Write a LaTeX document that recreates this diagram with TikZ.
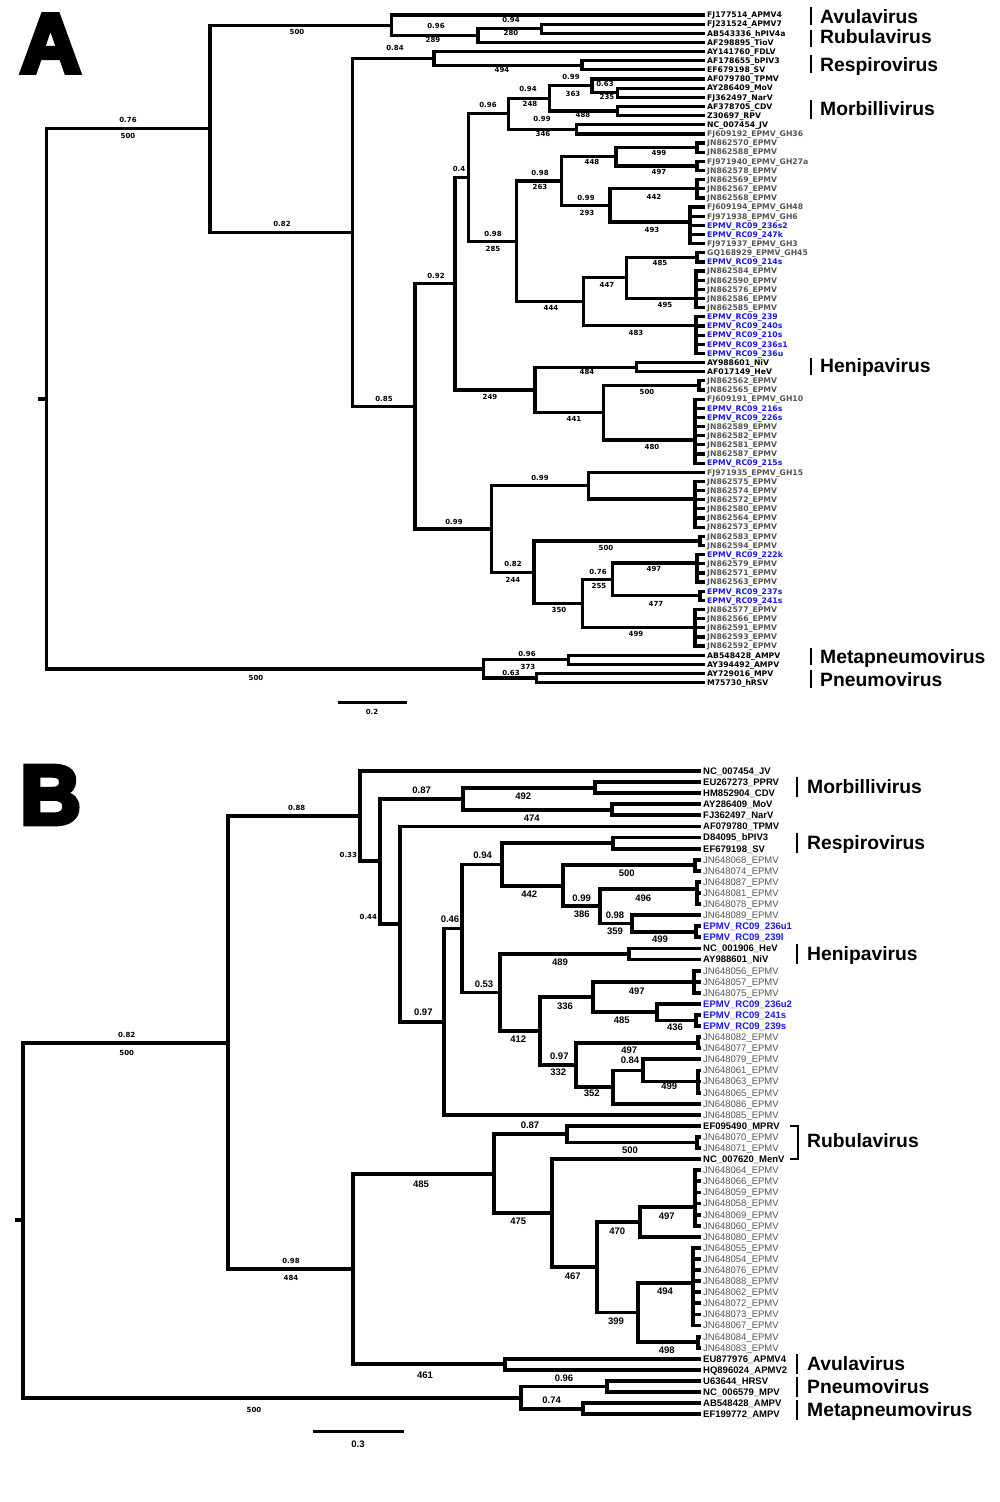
\documentclass[tikz,border=0pt]{standalone}
\usepackage{fontspec}
\newfontfamily\fA{DejaVu Sans}
\newfontfamily\fB{Liberation Sans}
\newfontfamily\fH{Liberation Sans}[BoldFeatures={FakeBold=6}]
\definecolor{gry}{RGB}{85,85,85}
\definecolor{blu}{RGB}{25,25,235}
\tikzset{
 ta/.style={line width=3.2pt, line join=miter, line cap=rect},
 tb/.style={line width=3.8pt, line join=miter, line cap=rect},
 aleaf/.style={anchor=west, inner xsep=4pt, inner ysep=0pt, text height=5.6pt, text depth=0pt, font=\fA\bfseries\fontsize{7.7}{8}\selectfont},
 ak/.style={text=black}, ag/.style={text=gry}, ab/.style={text=blu},
 bleaf/.style={anchor=west, inner xsep=4pt, inner ysep=0pt, text height=6.8pt, text depth=0pt},
 bk/.style={text=black, font=\fB\bfseries\fontsize{9.5}{10}\selectfont},
 bg/.style={text=gry, font=\fB\fontsize{9.5}{10}\selectfont},
 bb/.style={text=blu, font=\fB\bfseries\fontsize{9.5}{10}\selectfont},
 al/.style={inner sep=0pt, font=\fA\bfseries\fontsize{7}{7}\selectfont},
 bl/.style={inner sep=0pt, font=\fB\bfseries\fontsize{9.5}{9.5}\selectfont},
 gn/.style={anchor=west, inner sep=0pt, text height=13.8pt, text depth=0pt, font=\fB\bfseries\fontsize{19.3}{20}\selectfont},
 gbar/.style={line width=1.6pt},
 panel/.style={inner sep=0pt, font=\fH\bfseries\fontsize{84}{84}\selectfont}
}
\begin{document}
\begin{tikzpicture}[x=1pt,y=-1pt]
\fill[white] (0,0) rectangle (1000,1502);
\useasboundingbox (0,0) rectangle (1000,1502);

% ---------------- Panel A ----------------
\node[panel] (pA) at (50.5,43.5) {A};
\foreach \i/\t/\c in {
1/FJ177514\_APMV4/ak, 2/FJ231524\_APMV7/ak, 3/AB543336\_hPIV4a/ak, 4/AF298895\_TioV/ak,
5/AY141760\_FDLV/ak, 6/AF178655\_bPIV3/ak, 7/EF679198\_SV/ak, 8/AF079780\_TPMV/ak,
9/AY286409\_MoV/ak, 10/FJ362497\_NarV/ak, 11/AF378705\_CDV/ak, 12/Z30697\_RPV/ak,
13/NC\_007454\_JV/ak, 14/FJ609192\_EPMV\_GH36/ag, 15/JN862570\_EPMV/ag, 16/JN862588\_EPMV/ag,
17/FJ971940\_EPMV\_GH27a/ag, 18/JN862578\_EPMV/ag, 19/JN862569\_EPMV/ag, 20/JN862567\_EPMV/ag,
21/JN862568\_EPMV/ag, 22/FJ609194\_EPMV\_GH48/ag, 23/FJ971938\_EPMV\_GH6/ag, 24/EPMV\_RC09\_236s2/ab,
25/EPMV\_RC09\_247k/ab, 26/FJ971937\_EPMV\_GH3/ag, 27/GQ168929\_EPMV\_GH45/ag, 28/EPMV\_RC09\_214s/ab,
29/JN862584\_EPMV/ag, 30/JN862590\_EPMV/ag, 31/JN862576\_EPMV/ag, 32/JN862586\_EPMV/ag,
33/JN862585\_EPMV/ag, 34/EPMV\_RC09\_239/ab, 35/EPMV\_RC09\_240s/ab, 36/EPMV\_RC09\_210s/ab,
37/EPMV\_RC09\_236s1/ab, 38/EPMV\_RC09\_236u/ab, 39/AY988601\_NiV/ak, 40/AF017149\_HeV/ak,
41/JN862562\_EPMV/ag, 42/JN862565\_EPMV/ag, 43/FJ609191\_EPMV\_GH10/ag, 44/EPMV\_RC09\_216s/ab,
45/EPMV\_RC09\_226s/ab, 46/JN862589\_EPMV/ag, 47/JN862582\_EPMV/ag, 48/JN862581\_EPMV/ag,
49/JN862587\_EPMV/ag, 50/EPMV\_RC09\_215s/ab, 51/FJ971935\_EPMV\_GH15/ag, 52/JN862575\_EPMV/ag,
53/JN862574\_EPMV/ag, 54/JN862572\_EPMV/ag, 55/JN862580\_EPMV/ag, 56/JN862564\_EPMV/ag,
57/JN862573\_EPMV/ag, 58/JN862583\_EPMV/ag, 59/JN862594\_EPMV/ag, 60/EPMV\_RC09\_222k/ab,
61/JN862579\_EPMV/ag, 62/JN862571\_EPMV/ag, 63/JN862563\_EPMV/ag, 64/EPMV\_RC09\_237s/ab,
65/EPMV\_RC09\_241s/ab, 66/JN862577\_EPMV/ag, 67/JN862566\_EPMV/ag, 68/JN862591\_EPMV/ag,
69/JN862593\_EPMV/ag, 70/JN862592\_EPMV/ag, 71/AB548428\_AMPV/ak, 72/AY394492\_AMPV/ak,
73/AY729016\_MPV/ak, 74/M75730\_hRSV/ak}
 {\node[aleaf,\c] (aF\i) at (703,{15+(\i-1)*9.146}) {\t};}

\coordinate (aTk) at (40,398.9);
\coordinate (aR0) at (46.7,398.9);
\coordinate (aT) at (210,128.85);
\coordinate (aN1) at (391.7,25.29);
\coordinate (aN2) at (478,35.58);
\coordinate (aN3) at (541.7,28.72);
\coordinate (aS) at (352.7,232.4);
\coordinate (aFD) at (434,58.44);
\coordinate (aRS) at (582,65.30);
\coordinate (aU) at (415,406.37);
\coordinate (aV) at (455,283.78);
\coordinate (aW) at (468.3,177.64);
\coordinate (aZ) at (508.3,113.89);
\coordinate (aMB) at (549.5,98.46);
\coordinate (aTP) at (592,85.88);
\coordinate (aMN) at (617.7,92.74);
\coordinate (aCR) at (617.7,111.03);
\coordinate (aJV) at (576.7,129.33);
\coordinate (aE) at (516.7,241.38);
\coordinate (aP12) at (561.7,181.08);
\coordinate (aP1) at (616,156.77);
\coordinate (aP2) at (610,205.39);
\coordinate (aC1) at (697,147.62);
\coordinate (aC2) at (697,165.91);
\coordinate (aC3) at (697,188.77);
\coordinate (aC4) at (690,222);
\coordinate (aQ) at (583.3,301.67);
\coordinate (aQ1) at (626.7,277.84);
\coordinate (aC5) at (697,257.37);
\coordinate (aC6) at (696,298.3);
\coordinate (aC7) at (696,325.5);
\coordinate (aH) at (535,389.92);
\coordinate (aNH) at (636.7,367.12);
\coordinate (aH2) at (603.3,412.71);
\coordinate (aC8) at (699,385.42);
\coordinate (aC9) at (695,440);
\coordinate (aR) at (491.7,528.95);
\coordinate (aR1) at (588.3,485.65);
\coordinate (aC10) at (695,499);
\coordinate (aR2) at (534,572.25);
\coordinate (aC11) at (700,540.90);
\coordinate (aR3) at (582.3,603.59);
\coordinate (aR4) at (612.3,579.4);
\coordinate (aC12) at (697,563);
\coordinate (aC13) at (700,595.77);
\coordinate (aC14) at (695,627.78);
\coordinate (aPP) at (483.3,668.94);
\coordinate (aAM) at (568.3,659.80);
\coordinate (aPN) at (536.7,678.09);

\draw[ta] (aTk) -- (aR0);
\foreach \p/\q in {aR0/aT, aR0/aPP, aT/aN1, aT/aS, aN1/aF1, aN1/aN2, aN2/aN3, aN2/aF4,
 aN3/aF2, aN3/aF3, aS/aFD, aS/aU, aFD/aF5, aFD/aRS, aRS/aF6, aRS/aF7, aU/aV, aU/aR,
 aV/aW, aV/aH, aW/aZ, aW/aE, aZ/aMB, aZ/aJV, aMB/aTP, aMB/aCR, aTP/aF8, aTP/aMN,
 aMN/aF9, aMN/aF10, aCR/aF11, aCR/aF12, aJV/aF13, aJV/aF14, aE/aP12, aE/aQ,
 aP12/aP1, aP12/aP2, aP1/aC1, aP1/aC2, aC1/aF15, aC1/aF16, aC2/aF17, aC2/aF18,
 aP2/aC3, aP2/aC4, aC3/aF19, aC3/aF20, aC3/aF21, aC4/aF22, aC4/aF23, aC4/aF24, aC4/aF25, aC4/aF26,
 aQ/aQ1, aQ/aC7, aQ1/aC5, aQ1/aC6, aC5/aF27, aC5/aF28,
 aC6/aF29, aC6/aF30, aC6/aF31, aC6/aF32, aC6/aF33,
 aC7/aF34, aC7/aF35, aC7/aF36, aC7/aF37, aC7/aF38,
 aH/aNH, aH/aH2, aNH/aF39, aNH/aF40, aH2/aC8, aH2/aC9, aC8/aF41, aC8/aF42,
 aC9/aF43, aC9/aF44, aC9/aF45, aC9/aF46, aC9/aF47, aC9/aF48, aC9/aF49, aC9/aF50,
 aR/aR1, aR/aR2, aR1/aF51, aR1/aC10,
 aC10/aF52, aC10/aF53, aC10/aF54, aC10/aF55, aC10/aF56, aC10/aF57,
 aR2/aC11, aR2/aR3, aC11/aF58, aC11/aF59, aR3/aR4, aR3/aC14, aR4/aC12, aR4/aC13,
 aC12/aF60, aC12/aF61, aC12/aF62, aC12/aF63, aC13/aF64, aC13/aF65,
 aC14/aF66, aC14/aF67, aC14/aF68, aC14/aF69, aC14/aF70,
 aPP/aAM, aPP/aPN, aAM/aF71, aAM/aF72, aPN/aF73, aPN/aF74}
 {\draw[ta] (\p) |- (\q);}

\foreach \x/\y/\t [count=\n] in {
128/119.5/0.76, 128/136/500, 297/32/500, 436/26/0.96, 433/40/289, 511/20.3/0.94, 511/33/280,
395/48/0.84, 502/70/494, 571/77/0.99, 573/94/363, 605/84.3/0.63, 607/97/235, 528/89/0.94,
530/104/248, 583/115/488, 488/105/0.96, 542/119/0.99, 543/134/346, 459/169/0.4,
540/173/0.98, 540/187/263, 592/162/448, 659/153/499, 659/172/497, 586/198/0.99,
587/213/293, 654/197/442, 652/230/493, 493/234/0.98, 493/249/285, 660/263/485,
607/285/447, 665/305/495, 551/308/444, 636/333/483, 436/276/0.92, 282/224/0.82,
384/398.7/0.85, 587/372/484, 647/392/500, 490/397/249, 574/419/441, 652/447/480,
540/478/0.99, 454/522/0.99, 513/564/0.82, 513/580/244, 606/548/500, 598/572/0.76,
599/586/255, 654/569/497, 656/604/477, 559/610/350, 636/634/499, 527/654/0.96,
528/667/373, 511/673/0.63, 256/677.5/500, 372/712/0.2}
 {\node[al] (lA\n) at (\x,\y) {\t};}

\coordinate (sA1) at (337.7,702.8);
\coordinate (sA2) at (407.3,702.8);
\draw[line width=3pt] (sA1) -- (sA2);

\foreach \y/\t [count=\n] in {16.5/Avulavirus, 37/Rubulavirus, 65/Respirovirus, 109/Morbillivirus,
 366/Henipavirus, 656.5/Metapneumovirus, 679.5/Pneumovirus}
 {\node[gn] (gA\n) at (820,\y) {\t};}
\foreach \a/\b in {7/25, 30/47, 55/73, 100/119, 358/375, 648/665, 670/688}
 {\draw[gbar] (811,\a) -- (811,\b);}

% ---------------- Panel B ----------------
\node[panel] (pB) at (50.5,795) {B};
\foreach \i/\t/\c in {
1/NC\_007454\_JV/bk, 2/EU267273\_PPRV/bk, 3/HM852904\_CDV/bk, 4/AY286409\_MoV/bk,
5/FJ362497\_NarV/bk, 6/AF079780\_TPMV/bk, 7/D84095\_bPIV3/bk, 8/EF679198\_SV/bk,
9/JN648068\_EPMV/bg, 10/JN648074\_EPMV/bg, 11/JN648087\_EPMV/bg, 12/JN648081\_EPMV/bg,
13/JN648078\_EPMV/bg, 14/JN648089\_EPMV/bg, 15/EPMV\_RC09\_236u1/bb, 16/EPMV\_RC09\_239l/bb,
17/NC\_001906\_HeV/bk, 18/AY988601\_NiV/bk, 19/JN648056\_EPMV/bg, 20/JN648057\_EPMV/bg,
21/JN648075\_EPMV/bg, 22/EPMV\_RC09\_236u2/bb, 23/EPMV\_RC09\_241s/bb, 24/EPMV\_RC09\_239s/bb,
25/JN648082\_EPMV/bg, 26/JN648077\_EPMV/bg, 27/JN648079\_EPMV/bg, 28/JN648061\_EPMV/bg,
29/JN648063\_EPMV/bg, 30/JN648065\_EPMV/bg, 31/JN648086\_EPMV/bg, 32/JN648085\_EPMV/bg,
33/EF095490\_MPRV/bk, 34/JN648070\_EPMV/bg, 35/JN648071\_EPMV/bg, 36/NC\_007620\_MenV/bk,
37/JN648064\_EPMV/bg, 38/JN648066\_EPMV/bg, 39/JN648059\_EPMV/bg, 40/JN648058\_EPMV/bg,
41/JN648069\_EPMV/bg, 42/JN648060\_EPMV/bg, 43/JN648080\_EPMV/bg, 44/JN648055\_EPMV/bg,
45/JN648054\_EPMV/bg, 46/JN648076\_EPMV/bg, 47/JN648088\_EPMV/bg, 48/JN648062\_EPMV/bg,
49/JN648072\_EPMV/bg, 50/JN648073\_EPMV/bg, 51/JN648067\_EPMV/bg, 52/JN648084\_EPMV/bg,
53/JN648083\_EPMV/bg, 54/EU877976\_APMV4/bk, 55/HQ896024\_APMV2/bk, 56/U63644\_HRSV/bk,
57/NC\_006579\_MPV/bk, 58/AB548428\_AMPV/bk, 59/EF199772\_AMPV/bk}
 {\node[bleaf,\c] (bF\i) at (699,{771+(\i-1)*11.09}) {\t};}

\coordinate (bTk) at (17,1220.1);
\coordinate (bR0) at (23.3,1220.1);
\coordinate (b82) at (227.7,1042.6);
\coordinate (b88) at (360,816.19);
\coordinate (b33) at (380,861.38);
\coordinate (bM) at (462.7,798.73);
\coordinate (bPC) at (595,787.64);
\coordinate (bMN) at (611.7,809.82);
\coordinate (b44) at (400,924.04);
\coordinate (b97) at (444.3,1021.62);
\coordinate (b46) at (461.7,928.45);
\coordinate (bS) at (501.7,864.43);
\coordinate (bRS) at (613.3,843.09);
\coordinate (bT) at (563.3,885.76);
\coordinate (bC1) at (695,865.27);
\coordinate (bU) at (600,906.25);
\coordinate (bC2) at (697,889);
\coordinate (bU2) at (631.7,923.49);
\coordinate (bC3) at (696,931.81);
\coordinate (bK) at (500,992.46);
\coordinate (bHN) at (629.3,953.99);
\coordinate (bK2) at (540,1030.93);
\coordinate (bK3) at (592.7,996.96);
\coordinate (bC4) at (694,981.71);
\coordinate (bK4) at (656.7,1012.21);
\coordinate (bC5) at (696,1020.53);
\coordinate (bK5) at (576,1064.89);
\coordinate (bC6) at (698,1042.71);
\coordinate (bK6) at (613.3,1087.07);
\coordinate (bK7) at (643.3,1070.43);
\coordinate (bC7) at (698,1081.52);
\coordinate (b98) at (353.3,1269.01);
\coordinate (bJ) at (494,1173.7);
\coordinate (bJ1) at (566.7,1134.20);
\coordinate (bC8) at (697,1142.52);
\coordinate (bN) at (552.3,1213.23);
\coordinate (bN2) at (596.7,1267.3);
\coordinate (bN3) at (640,1222.04);
\coordinate (bC9) at (695,1207.3);
\coordinate (bN4) at (638.3,1312.57);
\coordinate (bC10) at (693,1283);
\coordinate (bC11) at (698,1342.14);
\coordinate (bAV) at (505,1364.32);
\coordinate (bPP) at (520.7,1397.59);
\coordinate (bPN) at (606.7,1386.50);
\coordinate (bAM) at (582.7,1408.68);

\draw[tb] (bTk) -- (bR0);
\foreach \p/\q in {bR0/b82, bR0/bPP, b82/b88, b82/b98, b88/bF1, b88/b33, b33/bM, b33/b44,
 bM/bPC, bM/bMN, bPC/bF2, bPC/bF3, bMN/bF4, bMN/bF5, b44/bF6, b44/b97, b97/b46, b97/bF32,
 b46/bS, b46/bK, bS/bRS, bS/bT, bRS/bF7, bRS/bF8, bT/bC1, bT/bU, bC1/bF9, bC1/bF10,
 bU/bC2, bU/bU2, bC2/bF11, bC2/bF12, bC2/bF13, bU2/bF14, bU2/bC3, bC3/bF15, bC3/bF16,
 bK/bHN, bK/bK2, bHN/bF17, bHN/bF18, bK2/bK3, bK2/bK5, bK3/bC4, bK3/bK4,
 bC4/bF19, bC4/bF20, bC4/bF21, bK4/bF22, bK4/bC5, bC5/bF23, bC5/bF24,
 bK5/bC6, bK5/bK6, bC6/bF25, bC6/bF26, bK6/bK7, bK6/bF31, bK7/bF27, bK7/bC7,
 bC7/bF28, bC7/bF29, bC7/bF30, b98/bJ, b98/bAV, bJ/bJ1, bJ/bN, bJ1/bF33, bJ1/bC8,
 bC8/bF34, bC8/bF35, bN/bF36, bN/bN2, bN2/bN3, bN2/bN4, bN3/bC9, bN3/bF43,
 bC9/bF37, bC9/bF38, bC9/bF39, bC9/bF40, bC9/bF41, bC9/bF42,
 bN4/bC10, bN4/bC11, bC10/bF44, bC10/bF45, bC10/bF46, bC10/bF47, bC10/bF48,
 bC10/bF49, bC10/bF50, bC10/bF51, bC11/bF52, bC11/bF53, bAV/bF54, bAV/bF55,
 bPP/bPN, bPP/bAM, bPN/bF56, bPN/bF57, bAM/bF58, bAM/bF59}
 {\draw[tb] (\p) |- (\q);}

\foreach \x/\y/\t [count=\n] in {126.7/1034.5/0.82, 126.7/1053.4/500, 296.7/807.6/0.88,
 291/1261.4/0.98, 291/1278.4/484, 348.3/854.6/0.33, 368.3/917.2/0.44, 254/1410/500}
 {\node[al] (lB\n) at (\x,\y) {\t};}
\foreach \x/\y/\t [count=\n] in {
421.7/790/0.87, 523.3/796.7/492, 531.7/818.3/474, 450/919.5/0.46, 423.3/1012.4/0.97,
482.7/855/0.94, 529.3/894/442, 626.7/873.3/500, 581.7/898.3/0.99, 581.7/914.3/386,
643.3/898.3/496, 615/915/0.98, 615/931.7/359, 660/939/499, 560/962.7/489, 484/984/0.53,
636.7/991.7/497, 565/1006.7/336, 621.7/1020/485, 675/1027.3/436, 518.3/1039.3/412,
559.3/1056/0.97, 558.3/1072.7/332, 629.3/1050.7/497, 630/1060.7/0.84, 669.3/1086/499,
591.7/1093.3/352, 530/1125/0.87, 630/1150/500, 421/1184/485, 518.3/1221.7/475,
617.3/1231.7/470, 666.7/1216/497, 572.7/1276.7/467, 665/1291.7/494, 616/1321.7/399,
666.7/1350/498, 425/1375/461, 564/1378.3/0.96, 551.7/1400/0.74, 358/1444/0.3}
 {\node[bl] (mB\n) at (\x,\y) {\t};}

\coordinate (sB1) at (313.3,1431.7);
\coordinate (sB2) at (404,1431.7);
\draw[line width=3.5pt] (sB1) -- (sB2);

\foreach \y/\t [count=\n] in {787/Morbillivirus, 843/Respirovirus, 954/Henipavirus,
 1141/Rubulavirus, 1364/Avulavirus, 1387/Pneumovirus, 1410/Metapneumovirus}
 {\node[gn] (gB\n) at (807,\y) {\t};}
\foreach \a/\b in {777/797, 833/853, 944/964, 1354/1374, 1377/1397, 1400/1420}
 {\draw[gbar] (797,\a) -- (797,\b);}
\draw[line width=1.3pt] (790,1126) -- (798,1126) -- (798,1159) -- (790,1159);
\end{tikzpicture}
\end{document}
